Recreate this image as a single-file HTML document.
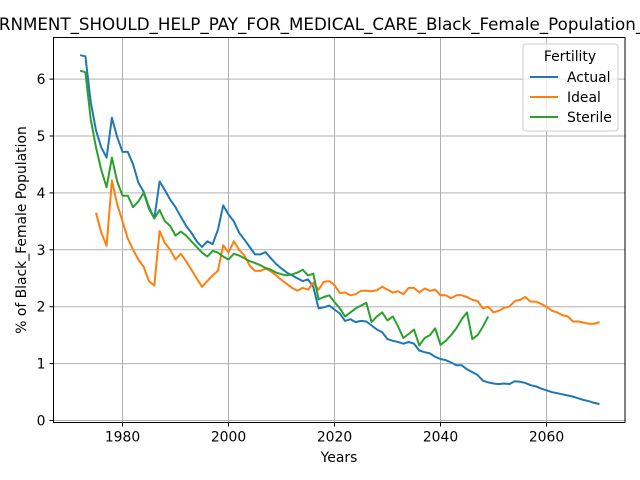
<!DOCTYPE html>
<html><head><meta charset="utf-8"><style>
body{margin:0;background:#fff}
svg{display:block;font-family:"DejaVu Sans","Liberation Sans",sans-serif}
</style></head><body>
<svg id="chart" width="640" height="480" viewBox="0 0 640 480">
<text x="329" y="30" text-anchor="middle" font-size="16.7" fill="#000">GOVERNMENT_SHOULD_HELP_PAY_FOR_MEDICAL_CARE_Black_Female_Population_Fertility</text>
<g id="grid"></g><g id="series"></g><g id="axes"></g>
<text x="339" y="462" text-anchor="middle" font-size="13.9">Years</text>
<text transform="translate(26,230) rotate(-90)" text-anchor="middle" font-size="13.9">% of Black_Female Population</text>
<g>
<rect x="523" y="44" width="95" height="87" rx="3" fill="#fff" fill-opacity="0.8" stroke="#ccc"/>
<text x="570" y="61" text-anchor="middle" font-size="13.9">Fertility</text>
<g><line x1="530" x2="558" y1="77" y2="77" stroke="#1f77b4" stroke-width="2"/><text x="567" y="82" font-size="13.9">Actual</text></g>
<g><line x1="530" x2="558" y1="97" y2="97" stroke="#ff7f0e" stroke-width="2"/><text x="567" y="102" font-size="13.9">Ideal</text></g>
<g><line x1="530" x2="558" y1="117" y2="117" stroke="#2ca02c" stroke-width="2"/><text x="567" y="122" font-size="13.9">Sterile</text></g>
</g>
</svg>
<script>
const actualStart = 1972;
const actualValues = [6.42,6.40,5.6,5.1,4.8,4.62,5.32,4.98,4.72,4.72,4.5,4.18,4.02,3.75,3.55,4.2,4.05,3.88,3.75,3.58,3.42,3.3,3.15,3.05,3.15,3.1,3.35,3.78,3.62,3.5,3.3,3.18,3.05,2.92,2.92,2.96,2.85,2.75,2.67,2.6,2.55,2.5,2.45,2.48,2.35,1.97,1.99,2.02,1.95,1.88,1.75,1.78,1.73,1.75,1.74,1.67,1.6,1.55,1.43,1.4,1.38,1.35,1.38,1.35,1.23,1.2,1.18,1.12,1.08,1.06,1.02,0.97,0.97,0.9,0.85,0.8,0.7,0.67,0.65,0.64,0.65,0.64,0.69,0.68,0.66,0.62,0.6,0.56,0.53,0.5,0.48,0.46,0.44,0.42,0.39,0.36,0.34,0.31,0.29];
const idealStart = 1975;
const idealValues = [3.65,3.3,3.07,4.22,3.8,3.5,3.2,3.0,2.83,2.7,2.45,2.37,3.33,3.12,3.0,2.83,2.93,2.8,2.65,2.5,2.35,2.45,2.55,2.63,3.08,2.95,3.15,3.0,2.9,2.72,2.63,2.63,2.67,2.62,2.55,2.47,2.4,2.33,2.28,2.33,2.3,2.42,2.3,2.44,2.45,2.38,2.24,2.25,2.2,2.22,2.28,2.28,2.27,2.29,2.35,2.3,2.25,2.27,2.22,2.33,2.33,2.25,2.32,2.28,2.3,2.2,2.2,2.15,2.2,2.2,2.17,2.12,2.1,1.97,2.0,1.9,1.93,1.98,2.0,2.1,2.12,2.17,2.09,2.09,2.05,2.0,1.93,1.9,1.85,1.83,1.74,1.74,1.72,1.7,1.7,1.73];
const sterileStart = 1972;
const sterileValues = [6.15,6.12,5.3,4.8,4.4,4.1,4.62,4.2,3.95,3.95,3.75,3.85,4.0,3.72,3.55,3.7,3.5,3.42,3.25,3.32,3.25,3.15,3.05,2.95,2.88,2.98,2.95,2.88,2.83,2.93,2.9,2.85,2.8,2.77,2.73,2.68,2.65,2.6,2.57,2.55,2.57,2.6,2.65,2.55,2.58,2.13,2.17,2.2,2.08,1.97,1.83,1.9,1.97,2.02,2.07,1.73,1.83,1.9,1.76,1.83,1.65,1.45,1.52,1.6,1.32,1.45,1.5,1.62,1.33,1.4,1.5,1.62,1.78,1.9,1.43,1.5,1.65,1.83];
const xTicks = [1980,2000,2020,2040,2060];
const yTicks = [0,1,2,3,4,5,6];

const L=53.5,R=625,T=37.5,B=422.5;
function xs(v){return 122.5+(v-1980)*5.3;}
function ys(v){return 420.5-v*56.9;}
const NS="http://www.w3.org/2000/svg";
const grid=document.getElementById('grid'),axes=document.getElementById('axes'),ser=document.getElementById('series');
function mk(tag,attrs,parent){const e=document.createElementNS(NS,tag);for(const k in attrs)e.setAttribute(k,attrs[k]);parent.appendChild(e);return e;}
xTicks.forEach(t=>{
  const x=xs(t);
  const g=mk('line',{x1:x,x2:x,y1:T,y2:B,stroke:'#b0b0b0','stroke-width':1},grid);
  
  
  mk('line',{x1:x,x2:x,y1:B,y2:B+4,stroke:'#000'},axes);
  const tx=mk('text',{x:x,y:B+19,'text-anchor':'middle','font-size':13.9},axes);
  tx.textContent=t;
  
  
});
yTicks.forEach(t=>{
  const y=ys(t);
  const g=mk('line',{x1:L,x2:R,y1:y,y2:y,stroke:'#b0b0b0','stroke-width':1},grid);
  
  
  mk('line',{x1:L-4,x2:L,y1:y,y2:y,stroke:'#000'},axes);
  const tx=mk('text',{x:L-8,y:y+5,'text-anchor':'end','font-size':13.9},axes);
  tx.textContent=t;
  
  
});
const fr=mk('rect',{x:L,y:T,width:R-L,height:B-T,fill:'none',stroke:'#000','stroke-width':1},axes);


function line(start,vals,color,name){
  const pts=vals.map((v,i)=>xs(start+i).toFixed(1)+','+ys(v).toFixed(1)).join(' ');
  const p=mk('polyline',{points:pts,fill:'none',stroke:color,'stroke-width':2,'stroke-linejoin':'round'},ser);
  
  
}
line(actualStart,actualValues,'#1f77b4','series-actual');
line(idealStart,idealValues,'#ff7f0e','series-ideal');
line(sterileStart,sterileValues,'#2ca02c','series-sterile');
</script>
</body></html>
